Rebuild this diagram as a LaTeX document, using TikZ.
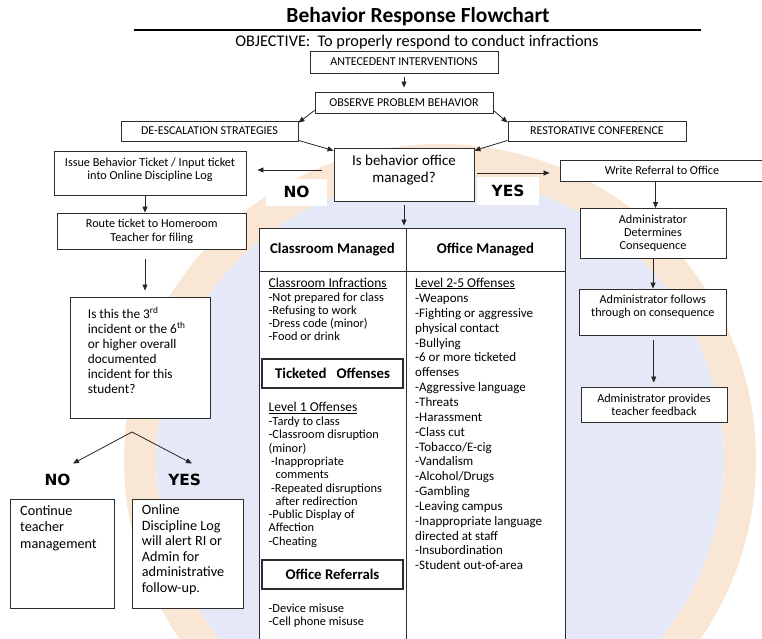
\documentclass[tikz,border=0pt]{standalone}
\usepackage{fontspec}
\setmainfont{Carlito}
\newfontfamily\heavyfont{DejaVu Sans}
\usetikzlibrary{arrows.meta}
\definecolor{wmorange}{RGB}{250,230,212}
\definecolor{wmblue}{RGB}{229,232,247}
\definecolor{bord}{RGB}{45,45,45}
\newcommand\fs[2]{\fontsize{#1}{#2}\selectfont}
\begin{document}
\begin{tikzpicture}[x=1pt,y=-1pt,
  box/.style={draw=bord, line width=0.9pt, fill=white, inner sep=0pt, align=center, font=\fs{12.2}{13.3}},
  capbox/.style={box, font=\fs{12}{14}},
  dbox/.style={draw=bord, line width=1.3pt, fill=white, inner sep=0pt, font=\bfseries\fs{14.8}{16}},
  lab/.style={inner sep=0pt, align=center, font=\fs{12.2}{13.3}},
  arr/.style={draw=black!85, line width=0.8pt, -{Triangle[length=6pt,width=5pt]}},
  yn/.style={font=\heavyfont\bfseries\fs{15.4}{18}, inner sep=0pt},
  txt/.style={anchor=base west, inner sep=0pt},
]
\useasboundingbox (0,0) rectangle (762,639);
\fill[white] (0,0) rectangle (762,639);
% watermark
\fill[wmblue] (440,460) circle (284);
\draw[wmorange, line width=32pt] (440,460) circle (300);

% title
\node[font=\bfseries\fs{21.5}{24}, inner sep=0pt] (title) at (418,17) {Behavior Response Flowchart};
\draw[line width=2.3pt] (134,30) -- (701,30);
\node[font=\fs{16.3}{18}, inner sep=0pt] (obj) at (417,42) {OBJECTIVE:\ \ To properly respond to conduct infractions};

% top chain
\node[capbox, minimum width=188pt, minimum height=22pt] (ante) at (404,62) {ANTECEDENT INTERVENTIONS};
\node[capbox, minimum width=178pt, minimum height=21pt] (obs) at (404,102.5) {OBSERVE PROBLEM BEHAVIOR};
\node[capbox, minimum width=177pt, minimum height=20pt] (deesc) at (209.5,131) {DE-ESCALATION STRATEGIES};
\node[capbox, minimum width=178pt, minimum height=20pt] (rest) at (597,131) {RESTORATIVE CONFERENCE};
\node[box, minimum width=140pt, minimum height=53pt] (dec) at (404,174.5) {};
\node[lab, font=\fs{15}{16.5}] (dect) at (404,170) {Is behavior office\\managed?};

\draw[arr, shorten <=4pt, shorten >=4pt] (ante) -- (obs);
\draw[arr] ([yshift=3pt]obs.south west) -- ([yshift=-2pt]deesc.north east);
\draw[arr] ([yshift=3pt]obs.south east) -- ([yshift=-2pt]rest.north west);
\draw[arr] ([yshift=1pt]deesc.south east) -- ([yshift=-3pt]dec.north west);
\draw[arr] ([yshift=1pt]rest.south west) -- ([yshift=-3pt]dec.north east);

% left branch
\node[box, minimum width=192pt, minimum height=43.5pt] (issue) at (150.5,173.25) {};
\node[lab] (issuet) at (150,169.5) {Issue Behavior Ticket / Input ticket\\into Online Discipline Log};
\node[box, minimum width=189.5pt, minimum height=36.5pt] (route) at (151.75,231.25) {Route ticket to Homeroom\\Teacher for filing};
\node[box, minimum width=139.5pt, minimum height=121pt] (quest) at (140.25,357.5) {};
\foreach \t [count=\i from 0] in {{Is this the 3\textsuperscript{rd}},{incident or the 6\textsuperscript{th}},{or higher overall},{documented},{incident for this},{student?}}
  {\node[txt, font=\fs{13.3}{15}] (q\i) at (87.7,{318.5+\i*15}) {\t};}
\node[box, minimum width=104pt, minimum height=109pt] (cont) at (62.7,553.5) {};
\foreach \t [count=\i from 0] in {Continue,teacher,management}
  {\node[txt, font=\fs{14.2}{16}] (c\i) at (20,{515.5+\i*16.3}) {\t};}
\node[box, minimum width=110.3pt, minimum height=109pt] (online) at (187.85,553.5) {};
\foreach \t [count=\i from 0] in {Online,Discipline Log,will alert RI or,Admin for,administrative,follow-up.}
  {\node[txt, font=\fs{14.2}{16}] (o\i) at (141.7,{514.5+\i*15.6}) {\t};}

\node[yn, fill=white, minimum width=61pt, minimum height=27pt] (nolab) at (296.5,192) {NO};
\node[yn, fill=white, minimum width=62pt, minimum height=28pt] (yeslab) at (508,191) {YES};
\node[yn] (no2) at (57.5,480) {NO};
\node[yn] (yes2) at (184.7,480) {YES};

\draw[arr, shorten <=12pt, shorten >=10.5pt] ([yshift=4.5pt]dec.west) -- ([yshift=4.5pt]dec.west -| issue.east);
\draw[arr] ([xshift=-5.5pt]issue.south) -- ([xshift=-5.5pt]issue.south |- route.north);
\draw[arr, shorten <=9.5pt, shorten >=6pt] ([xshift=-6.75pt]route.south) -- ([xshift=-6.75pt]route.south |- quest.north);
\coordinate (apex) at (132,432);
\coordinate (tipL) at (73,463.5);
\coordinate (tipR) at (192,463.5);
\draw[arr] (apex) -- (tipL);
\draw[arr] (apex) -- (tipR);

% right branch
\node[box, minimum width=204pt, minimum height=21pt] (wref) at (662,170.5) {};
\node[lab] (wreft) at (662,170) {Write Referral to Office};
\node[box, minimum width=146pt, minimum height=49.5pt] (adet) at (653,233.25) {Administrator\\Determines\\Consequence};
\node[box, minimum width=146.5pt, minimum height=46pt] (afol) at (652.75,312) {};
\node[lab] (afolt) at (652.75,306.5) {Administrator follows\\through on consequence};
\node[box, minimum width=146pt, minimum height=35pt] (afb) at (654,404.5) {Administrator provides\\teacher feedback};

\draw[arr, shorten <=3pt, shorten >=10pt] ([yshift=1.5pt]dec.east) -- ([yshift=1.5pt]dec.east -| wref.west);
\draw[arr] ([xshift=2.5pt]wref.south -| adet.north) -- ([xshift=2.5pt]adet.north);
\draw[arr] (adet.south) -- (adet.south |- afol.north);
\draw[arr, shorten <=5pt, shorten >=4pt] ([xshift=1pt]afol.south) -- ([xshift=1pt]afol.south |- afb.north);

% table
\node[box, minimum width=147pt, minimum height=43pt, font=\bfseries\fs{14.8}{16}] (cmh) at (332.5,249.5) {Classroom Managed};
\node[box, minimum width=159pt, minimum height=43pt, font=\bfseries\fs{14.8}{16}] (omh) at (485.5,249.5) {Office Managed};
\node[box, minimum width=147pt, minimum height=380pt, anchor=north] (cmc) at (332.5,271) {};
\node[box, minimum width=159pt, minimum height=380pt, anchor=north] (omc) at (485.5,271) {};
\draw[arr, shorten <=4pt, shorten >=2pt] (dec.south) -- (dec.south |- cmh.north);

\node[dbox, minimum width=141pt, minimum height=29pt] (tick) at (332.5,373.5) {Ticketed\ \ \ Offenses};
\node[dbox, minimum width=141pt, minimum height=29pt] (oref) at (332.5,574.5) {Office Referrals};

\node[txt, font=\fs{13.5}{15}] (ci) at (268.5,287) {\underline{Classroom Infractions}};
\foreach \t [count=\i from 0] in {{-Not prepared for class},{-Refusing to work},{-Dress code (minor)},{-Food or drink}}
  {\node[txt, font=\fs{12.4}{13.3}] (ca\i) at (268.5,{301+\i*13.3}) {\t};}
\node[txt, font=\fs{13.5}{15}] (l1) at (268.5,411.5) {\underline{Level 1 Offenses}};
\foreach \d/\t [count=\i from 0] in {0/{-Tardy to class},0/{-Classroom disruption},0/{(minor)},2.5/{-Inappropriate},7/{comments},2.5/{-Repeated disruptions},7/{after redirection},0/{-Public Display of},0/{Affection},0/{-Cheating}}
  {\node[txt, font=\fs{12.4}{13.3}] (lb\i) at ({268.5+\d},{425.5+\i*13.3}) {\t};}
\foreach \t [count=\i from 0] in {{-Device misuse},{-Cell phone misuse}}
  {\node[txt, font=\fs{12.4}{13.3}] (dv\i) at (268.5,{612+\i*13.5}) {\t};}

\node[txt, font=\fs{13.5}{15}] (l25) at (415,287) {\underline{Level 2-5 Offenses}};
\foreach \t [count=\i from 0] in {{-Weapons},{-Fighting or aggressive},{physical contact},{-Bullying},{-6 or more ticketed},{offenses},{-Aggressive language},{-Threats},{-Harassment},{-Class cut},{-Tobacco/E-cig},{-Vandalism},{-Alcohol/Drugs},{-Gambling},{-Leaving campus},{-Inappropriate language},{directed at staff},{-Insubordination},{-Student out-of-area}}
  {\node[txt, font=\fs{13}{15}] (om\i) at (415,{302.5+\i*14.85}) {\t};}
\end{tikzpicture}
\end{document}
